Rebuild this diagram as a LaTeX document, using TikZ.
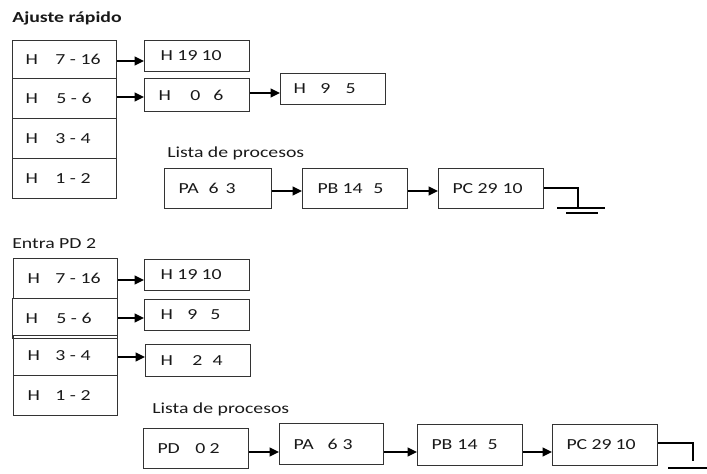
\documentclass[tikz,border=0pt]{standalone}
\usepackage{fontspec}
\setmainfont{Carlito}[FakeStretch=1.29]
\usetikzlibrary{arrows.meta,calc}
% one screen pixel
\newdimen\px \px=0.75pt
% fixed-width cell text: total width, left indent, contents
\newcommand{\cellbox}[3]{\makebox[#1\px][l]{\hspace*{#2\px}#3}}
% left-aligned column of a given width
\newcommand{\tcol}[2]{\makebox[#1\px][l]{#2}}
\begin{document}
\begin{tikzpicture}[x=0.75pt,y=-0.75pt,
  every node/.style={font=\fontsize{11.5pt}{14pt}\selectfont, text=black!90},
  cell/.style={draw=black!80, line width=0.75pt, inner sep=0pt, anchor=north west, minimum height=#1*0.75pt},
  caption/.style={inner sep=0pt, anchor=base west},
  link/.style={line width=1.5pt, -{Triangle[length=7pt,width=6.5pt]}},
  wire/.style={line width=1.5pt}]
\useasboundingbox (0,0) rectangle (707,474);

% ---------- Ajuste rapido ----------
\node[caption] (title1) at (12,23) {\bfseries Ajuste rápido};
\node[cell=38] (L1a) at (12,40)  {\cellbox{104}{13}{\tcol{30}{H}7 - 16}};
\node[cell=40] (L1b) at (12,78)  {\cellbox{104}{13}{\tcol{31}{H}5 - 6}};
\node[cell=40] (L1c) at (12,118) {\cellbox{104}{13}{\tcol{30}{H}3 - 4}};
\node[cell=40] (L1d) at (12,158) {\cellbox{104}{13}{\tcol{30}{H}1 - 2}};
\node[cell=31] (R1a) at (144,40) {\cellbox{105}{16}{\tcol{17}{H}\tcol{24}{19}10}};
\node[cell=33] (R1b) at (144,78) {\cellbox{105}{14}{\tcol{32}{H}\tcol{23}{0}6}};
\node[cell=31] (R1c) at (280,73) {\cellbox{105}{13}{\tcol{27}{H}\tcol{25}{9}5}};

\draw[link] ($(L1a.north east)+(0,21)$) -- ($(R1a.north west)+(0,21)$);
\draw[link] ($(L1b.north east)+(0,19)$) -- ($(R1b.north west)+(0,19)$);
\draw[link] ($(R1b.north east)+(0,15)$) -- ($(R1c.north west)+(0,20)$);

\node[caption] (list1) at (167,158) {Lista de procesos};
\node[cell=40] (PA1) at (164,168) {\cellbox{107}{14}{\tcol{30}{PA}\tcol{17}{6}3}};
\node[cell=40] (PB1) at (302,168) {\cellbox{105}{15}{\tcol{25}{PB}\tcol{31}{14}5}};
\node[cell=40] (PC1) at (438,168) {\cellbox{105}{14}{\tcol{25}{PC}\tcol{25}{29}10}};

\draw[link] ($(PA1.north east)+(0,23)$) -- ($(PB1.north west)+(0,23)$);
\draw[link] ($(PB1.north east)+(0,23)$) -- ($(PC1.north west)+(0,23)$);

% list terminator
\coordinate (gnd1) at (578,208);
\draw[wire] ($(PC1.north east)+(0,20)$) -| (gnd1);
\draw[wire] ($(gnd1)+(-21,0)$) -- ($(gnd1)+(27,0)$);
\draw[wire] ($(gnd1)+(-12,5)$) -- ($(gnd1)+(20,5)$);

% ---------- Entra PD 2 ----------
\node[caption] (title2) at (12,248) {Entra PD 2};
\node[cell=40] (L2a) at (13,258) {\cellbox{104}{14}{\tcol{28}{H}7 - 16}};
\node[cell=40] (L2b) at (12,298) {\cellbox{105}{13}{\tcol{31}{H}5 - 6}};
\node[cell=40] (L2c) at (13,335) {\cellbox{104}{14}{\tcol{28}{H}3 - 4}};
\node[cell=40] (L2d) at (13,375) {\cellbox{104}{14}{\tcol{28}{H}1 - 2}};
\node[cell=31] (R2a) at (144,259) {\cellbox{105}{16}{\tcol{17}{H}\tcol{24}{19}10}};
\node[cell=31] (R2b) at (144,299) {\cellbox{105}{16}{\tcol{27}{H}\tcol{23}{9}5}};
\node[cell=32] (R2c) at (145,344) {\cellbox{105}{15}{\tcol{32}{H}\tcol{20}{2}4}};

\draw[link] ($(L2a.north east)+(0,22)$) -- ($(R2a.north west)+(0,21)$);
\draw[link] ($(L2b.north east)+(0,20)$) -- ($(R2b.north west)+(0,19)$);
\draw[link] ($(L2c.north east)+(0,22)$) -- ($(R2c.north west)+(0,13)$);

\node[caption] (list2) at (152,413) {Lista de procesos};
\node[cell=40] (PD)  at (143,428) {\cellbox{105}{14}{\tcol{38}{PD}\tcol{14}{0}2}};
\node[cell=41] (PA2) at (279,423) {\cellbox{104}{14}{\tcol{34}{PA}\tcol{15}{6}3}};
\node[cell=41] (PB2) at (417,424) {\cellbox{105}{14}{\tcol{26}{PB}\tcol{30}{14}5}};
\node[cell=41] (PC2) at (552,424) {\cellbox{105}{14}{\tcol{25}{PC}\tcol{24}{29}10}};

\draw[link] ($(PD.north east)+(0,24)$)  -- ($(PA2.north west)+(0,29)$);
\draw[link] ($(PA2.north east)+(0,29)$) -- ($(PB2.north west)+(0,28)$);
\draw[link] ($(PB2.north east)+(0,28)$) -- ($(PC2.north west)+(0,28)$);

% list terminator
\coordinate (gnd2) at (693,461);
\draw[wire] ($(PC2.north east)+(0,19)$) -| (gnd2);
\draw[wire] ($(gnd2)+(-25,7)$) -- ($(gnd2)+(14,7)$);
\end{tikzpicture}
\end{document}
